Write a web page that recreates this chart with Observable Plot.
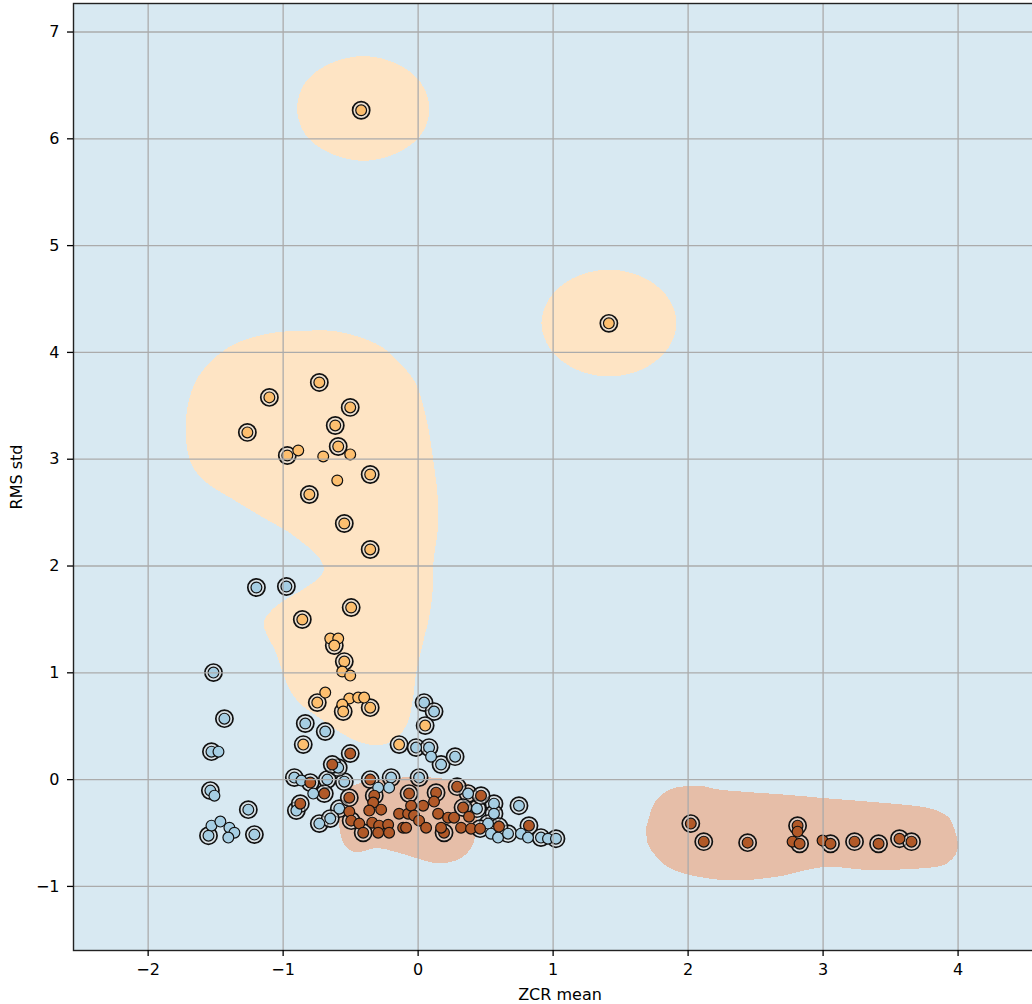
<!DOCTYPE html>
<html>
<head>
<meta charset="utf-8">
<script src="https://cdn.jsdelivr.net/npm/d3@7"></script>
<script src="https://cdn.jsdelivr.net/npm/@observablehq/plot@0.6"></script>
<style>
  html, body { margin: 0; padding: 0; background: #fff; overflow: hidden; width: 1032px; height: 1004px; }
  #chart svg { max-width: none !important; display: block; }
</style>
</head>
<body>
<div id="chart"></div>
<script>
// Class labels and their colours (Paired colormap entries)
const classNames = ["class 0", "class 1", "class 2"];
const pointColors = ["#a6cee3", "#fdbf6f", "#b15928"];
const regionColors = ["#d8e9f2", "#fee4c4", "#e6bea8"];

// Samples: [ZCR mean, RMS std, isSupportVector]
const class0 = [
  [-1.198, 1.799, 1], [-0.976, 1.808, 1], [-1.516, 1.002, 1], [-1.435, 0.571, 1],
  [-1.531, 0.262, 1], [-1.479, 0.262, 0], [-0.836, 0.525, 1], [-0.688, 0.450, 1],
  [-1.539, -0.103, 1], [-1.509, -0.150, 0], [-1.258, -0.281, 1], [-1.531, -0.431, 0],
  [-1.465, -0.393, 0], [-1.398, -0.450, 0], [-1.361, -0.497, 0], [-1.553, -0.525, 1],
  [-1.406, -0.543, 0], [-1.213, -0.515, 1],
  [-0.917, 0.019, 1], [-0.865, -0.009, 0], [-0.673, 0.000, 1], [-0.547, -0.019, 1],
  [-0.200, 0.019, 1], [-0.215, -0.075, 0], [-0.777, -0.131, 0], [-0.902, -0.290, 1],
  [-0.584, -0.272, 1], [-0.732, -0.412, 1], [-0.651, -0.365, 1], [-0.296, -0.075, 0],
  [-0.592, 0.112, 1],
  [0.044, 0.721, 1], [0.118, 0.637, 1], [-0.015, 0.300, 1], [0.081, 0.300, 1],
  [0.096, 0.215, 0], [0.170, 0.141, 1], [0.274, 0.215, 1], [0.007, 0.019, 1],
  [0.370, -0.131, 1], [0.436, -0.272, 1], [0.562, -0.225, 1], [0.562, -0.319, 1],
  [0.518, -0.412, 1], [0.540, -0.506, 0], [0.592, -0.543, 0], [0.666, -0.506, 1],
  [0.747, -0.244, 1], [0.762, -0.506, 0], [0.814, -0.543, 0], [0.910, -0.543, 1],
  [0.962, -0.553, 0], [1.021, -0.553, 1]
];

const class1 = [
  [-0.422, 6.267, 1], [1.413, 4.272, 1], [-0.732, 3.719, 1], [-1.102, 3.579, 1],
  [-0.503, 3.485, 1], [-0.614, 3.316, 1], [-1.265, 3.251, 1], [-0.592, 3.119, 1],
  [-0.969, 3.035, 1], [-0.888, 3.082, 0], [-0.703, 3.026, 0], [-0.503, 3.045, 0],
  [-0.355, 2.857, 1], [-0.599, 2.801, 0], [-0.806, 2.670, 1], [-0.547, 2.398, 1],
  [-0.355, 2.155, 1], [-0.496, 1.611, 1], [-0.858, 1.499, 1], [-0.651, 1.321, 0],
  [-0.592, 1.321, 0], [-0.621, 1.255, 1], [-0.547, 1.105, 1], [-0.562, 1.012, 0],
  [-0.503, 0.974, 0], [-0.688, 0.815, 0], [-0.747, 0.721, 1], [-0.510, 0.759, 0],
  [-0.444, 0.768, 0], [-0.400, 0.768, 0], [-0.562, 0.703, 0], [-0.555, 0.637, 1],
  [-0.355, 0.674, 1], [-0.851, 0.328, 1], [0.052, 0.506, 1], [-0.141, 0.328, 1]
];

const class2 = [
  [-0.503, 0.244, 1], [-0.636, 0.141, 1], [-0.799, -0.028, 1], [-0.695, -0.131, 1],
  [-0.873, -0.225, 1], [-0.355, 0.000, 1], [-0.325, -0.150, 1], [-0.510, -0.169, 1],
  [-0.333, -0.215, 0], [-0.510, -0.300, 0], [-0.362, -0.290, 0], [-0.274, -0.281, 0],
  [-0.141, -0.319, 0], [-0.074, -0.319, 0], [-0.496, -0.384, 1], [-0.436, -0.412, 0],
  [-0.340, -0.403, 0], [-0.289, -0.431, 0], [-0.222, -0.422, 0], [-0.111, -0.450, 0],
  [-0.407, -0.497, 1], [-0.296, -0.497, 0], [-0.215, -0.497, 0],
  [-0.067, -0.131, 1], [-0.052, -0.244, 0], [0.037, -0.244, 0], [0.133, -0.122, 1],
  [0.118, -0.206, 0], [-0.030, -0.337, 0], [-0.089, -0.450, 0], [0.007, -0.384, 0],
  [0.059, -0.450, 0], [0.148, -0.319, 0], [0.222, -0.356, 0], [0.192, -0.497, 1],
  [0.170, -0.450, 0], [0.266, -0.356, 0], [0.289, -0.066, 1], [0.466, -0.150, 1],
  [0.333, -0.262, 1], [0.377, -0.347, 0], [0.318, -0.450, 0], [0.392, -0.459, 0],
  [0.459, -0.459, 1], [0.599, -0.440, 1], [0.821, -0.431, 1],
  [2.020, -0.412, 1], [2.116, -0.581, 1], [2.441, -0.590, 1], [2.811, -0.431, 1],
  [2.811, -0.487, 0], [2.774, -0.581, 0], [2.826, -0.600, 1], [2.996, -0.571, 0],
  [3.055, -0.600, 1], [3.233, -0.581, 1], [3.411, -0.600, 1], [3.566, -0.553, 1],
  [3.655, -0.581, 1]
];

// Decision-region outlines in (ZCR mean, RMS std) units
const class1Regions = [
  [[0.08, 6.28], [0.01, 6.53], [-0.165, 6.70], [-0.41, 6.77], [-0.655, 6.70], [-0.835, 6.53],
   [-0.90, 6.28], [-0.835, 6.03], [-0.655, 5.86], [-0.41, 5.79], [-0.165, 5.86], [0.015, 6.03]],
  [[1.91, 4.27], [1.84, 4.52], [1.66, 4.70], [1.41, 4.77], [1.16, 4.70], [0.98, 4.52],
   [0.91, 4.27], [0.98, 4.02], [1.16, 3.84], [1.41, 3.77], [1.66, 3.84], [1.84, 4.02]],
  [[-1.087, 4.178], [-0.865, 4.197], [-0.643, 4.197], [-0.444, 4.141], [-0.274, 4.047],
   [-0.148, 3.906], [-0.037, 3.738], [0.022, 3.550], [0.074, 3.269], [0.111, 2.960],
   [0.141, 2.642], [0.141, 2.333], [0.111, 2.052], [0.104, 1.770], [0.081, 1.536],
   [0.037, 1.302], [-0.015, 1.021], [-0.044, 0.740], [-0.081, 0.534], [-0.163, 0.384],
   [-0.288, 0.319], [-0.436, 0.347], [-0.584, 0.440], [-0.732, 0.571], [-0.865, 0.693],
   [-0.954, 0.834], [-1.013, 1.021], [-1.065, 1.208], [-1.124, 1.349], [-1.146, 1.471],
   [-1.087, 1.583], [-0.991, 1.677], [-0.865, 1.770], [-0.740, 1.883], [-0.703, 1.977],
   [-0.754, 2.098], [-0.865, 2.220], [-0.976, 2.323], [-1.146, 2.445], [-1.368, 2.614],
   [-1.568, 2.773], [-1.679, 2.941], [-1.723, 3.176], [-1.716, 3.457], [-1.664, 3.691],
   [-1.583, 3.850], [-1.457, 4.000], [-1.309, 4.103]]
];
const class2Regions = [
  [[-0.533, -0.103], [-0.385, -0.019], [-0.200, 0.009], [0.022, 0.019], [0.207, 0.000],
   [0.355, -0.037], [0.429, -0.150], [0.436, -0.337], [0.422, -0.525], [0.377, -0.665],
   [0.281, -0.759], [0.133, -0.787], [-0.015, -0.740], [-0.163, -0.684], [-0.311, -0.646],
   [-0.459, -0.684], [-0.547, -0.618], [-0.584, -0.478], [-0.584, -0.290]],
  [[1.686, -0.506], [1.701, -0.384], [1.760, -0.197], [1.893, -0.084], [2.093, -0.066],
   [2.263, -0.103], [2.759, -0.150], [3.003, -0.178], [3.373, -0.215], [3.743, -0.262],
   [3.905, -0.337], [3.964, -0.450], [3.994, -0.637], [3.942, -0.759], [3.817, -0.824],
   [3.373, -0.852], [3.003, -0.824], [2.633, -0.918], [2.263, -0.946], [1.893, -0.852],
   [1.723, -0.665]]
];

const xTicks = [-2, -1, 0, 1, 2, 3, 4];
const yTicks = [-1, 0, 1, 2, 3, 4, 5, 6, 7];

// Flatten samples into records for the dot marks
const samples = [class0, class1, class2].flatMap((rows, k) =>
  rows.map(([zcr, rms, sv]) => ({zcr, rms, sv: sv === 1, cls: k}))
);

// Mesh extends one unit beyond the samples on every side
const xDomain = [d3.min(samples, d => d.zcr) - 1, d3.max(samples, d => d.zcr) + 1];
const yDomain = [d3.min(samples, d => d.rms) - 1, d3.max(samples, d => d.rms) + 1];

// Round off each outline with a closed Catmull-Rom spline through its vertices
function smoothClosed(poly, steps = 10) {
  const n = poly.length, out = [];
  for (let i = 0; i < n; ++i) {
    const p0 = poly[(i - 1 + n) % n], p1 = poly[i], p2 = poly[(i + 1) % n], p3 = poly[(i + 2) % n];
    for (let s = 0; s < steps; ++s) {
      const t = s / steps, t2 = t * t, t3 = t2 * t;
      out.push([0, 1].map(j => 0.5 * (2 * p1[j] + (-p0[j] + p2[j]) * t +
        (2 * p0[j] - 5 * p1[j] + 4 * p2[j] - p3[j]) * t2 +
        (-p0[j] + 3 * p1[j] - 3 * p2[j] + p3[j]) * t3)));
    }
  }
  return out;
}
const smooth1 = class1Regions.map(p => smoothClosed(p));
const smooth2 = class2Regions.map(p => smoothClosed(p));

const inside = (regions, x, y) => regions.some(p => d3.polygonContains(p, [x, y]));
const regionOf = (x, y) =>
  inside(smooth2, x, y) ? classNames[2] :
  inside(smooth1, x, y) ? classNames[1] : classNames[0];

const intFormat = d3.format("d");

const chart = Plot.plot({
  width: 1100,
  height: 1004,
  marginLeft: 73,
  marginRight: 54,
  marginTop: 3,
  marginBottom: 54,
  style: {fontFamily: "DejaVu Sans, sans-serif", fontSize: "16px", color: "#000", background: "#fff", maxWidth: "none"},
  x: {domain: xDomain},
  y: {domain: yDomain},
  color: {type: "ordinal", domain: classNames, range: regionColors},
  marks: [
    Plot.raster({
      x1: xDomain[0], x2: xDomain[1], y1: yDomain[0], y2: yDomain[1],
      fill: regionOf,
      imageRendering: "pixelated"
    }),
    // support-vector rings
    Plot.dot(samples.filter(d => d.sv), {
      x: "zcr", y: "rms", r: 8.6,
      fill: "#dcdcdc", fillOpacity: 0.55, stroke: "#111", strokeWidth: 1.7
    }),
    ...[0, 1, 2].map(k => Plot.dot(samples.filter(d => d.cls === k), {
      x: "zcr", y: "rms", r: 5.4,
      fill: pointColors[k], stroke: "#111", strokeWidth: 1.2
    })),
    Plot.gridX(xTicks, {stroke: "#ababab", strokeOpacity: 1, strokeWidth: 1.3}),
    Plot.gridY(yTicks, {stroke: "#ababab", strokeOpacity: 1, strokeWidth: 1.3}),
    Plot.frame({stroke: "#222", strokeWidth: 1.4}),
    Plot.axisX(xTicks, {
      tickSize: 6, tickPadding: 7, strokeWidth: 1.3, tickFormat: intFormat,
      label: "ZCR mean", labelAnchor: "center", labelArrow: "none", labelOffset: 49
    }),
    Plot.axisY(yTicks, {
      tickSize: 6, tickPadding: 8, strokeWidth: 1.3, tickFormat: intFormat,
      label: "RMS std", labelAnchor: "center", labelArrow: "none", labelOffset: 63
    })
  ]
});

document.getElementById("chart").appendChild(chart);
</script>
</body>
</html>
